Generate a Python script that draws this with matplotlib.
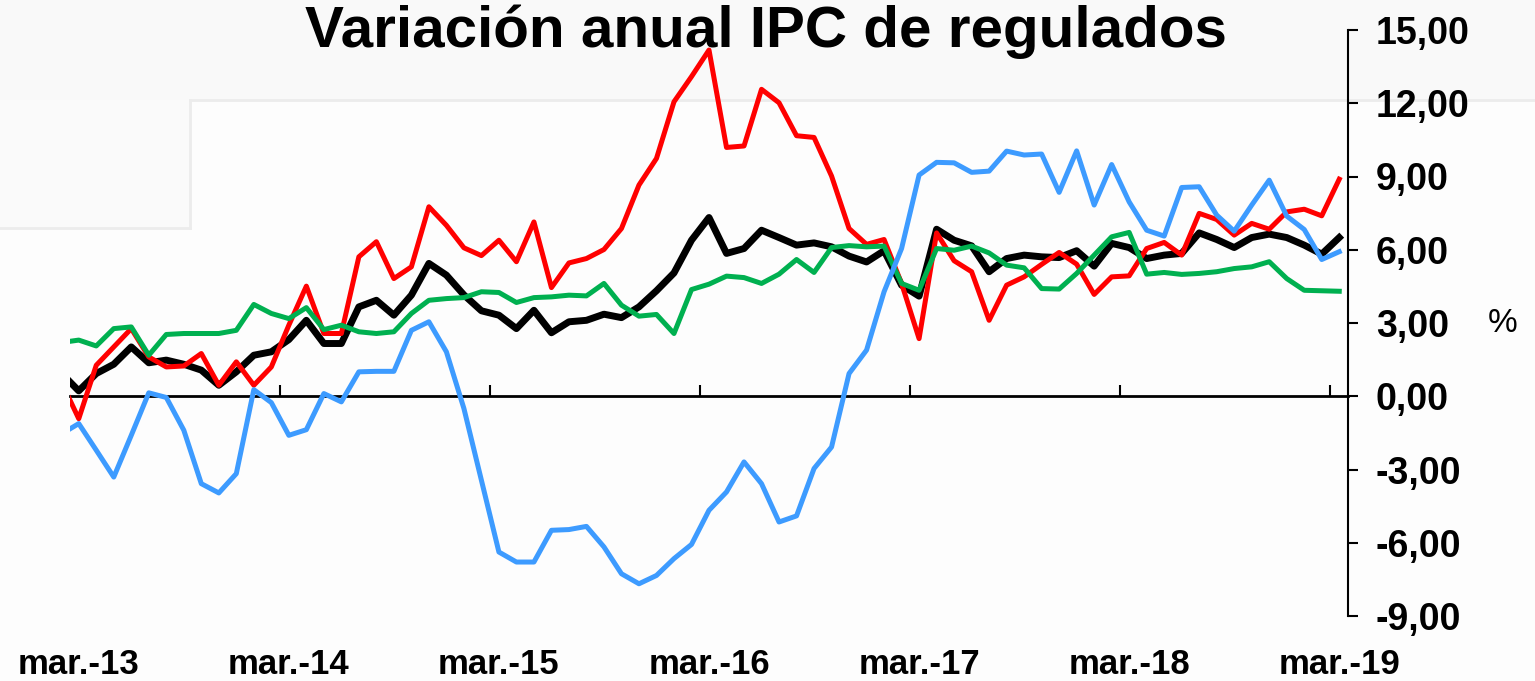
import numpy as np
import matplotlib.pyplot as plt
from matplotlib.patches import Rectangle
from matplotlib.lines import Line2D

plt.rcParams['font.family'] = ['Liberation Sans', 'DejaVu Sans']

# monthly index, 0 = mar-13 (feb-13 is only partly visible at the left edge)
meses = np.arange(-1, 73)
etiquetas = ['mar.-13', 'mar.-14', 'mar.-15', 'mar.-16', 'mar.-17', 'mar.-18', 'mar.-19']
pos_etiquetas = [0, 12, 24, 36, 48, 60, 72]
yticks = [-9, -6, -3, 0, 3, 6, 9, 12, 15]

negro = [0.95, 0.22, 0.93, 1.31, 2.02, 1.37, 1.48, 1.31, 1.07, 0.45, 1.0, 1.68, 1.82,
         2.32, 3.11, 2.16, 2.16, 3.66, 3.93, 3.32, 4.14, 5.44, 4.96, 4.15, 3.5,
         3.32, 2.77, 3.52, 2.6, 3.05, 3.11, 3.36, 3.22, 3.66, 4.32, 5.05, 6.39,
         7.32, 5.85, 6.05, 6.8, 6.5, 6.19, 6.28, 6.12, 5.74, 5.5, 5.96, 4.55,
         4.1, 6.84, 6.39, 6.16, 5.1, 5.64, 5.78, 5.71, 5.68, 5.96, 5.33, 6.26,
         6.09, 5.64, 5.78, 5.85, 6.69, 6.42, 6.09, 6.5, 6.64, 6.5, 6.19, 5.82, 6.5]

rojo = [0.6, -0.92, 1.27, 2.02, 2.77, 1.61, 1.2, 1.24, 1.75, 0.45, 1.41, 0.45, 1.2,
        2.91, 4.51, 2.57, 2.57, 5.71, 6.33, 4.82, 5.3, 7.76, 7.0, 6.08, 5.76,
        6.39, 5.51, 7.14, 4.45, 5.46, 5.64, 6.01, 6.87, 8.65, 9.74, 12.06, 13.09,
        14.18, 10.19, 10.25, 12.57, 12.02, 10.67, 10.6, 9.02, 6.87, 6.22, 6.42, 4.62,
        2.36, 6.69, 5.55, 5.1, 3.11, 4.55, 4.89, 5.4, 5.89, 5.41, 4.17, 4.89,
        4.93, 6.05, 6.3, 5.78, 7.49, 7.24, 6.6, 7.08, 6.84, 7.55, 7.66, 7.39, 8.89]

verde = [2.2, 2.3, 2.06, 2.77, 2.84, 1.68, 2.53, 2.57, 2.57, 2.57, 2.7, 3.76, 3.39,
         3.18, 3.63, 2.73, 2.91, 2.64, 2.57, 2.64, 3.39, 3.93, 4.0, 4.04, 4.28,
         4.25, 3.84, 4.04, 4.07, 4.14, 4.11, 4.62, 3.73, 3.28, 3.35, 2.57, 4.37,
         4.59, 4.92, 4.86, 4.62, 5.0, 5.6, 5.07, 6.09, 6.17, 6.12, 6.15, 4.62,
         4.34, 6.05, 5.98, 6.15, 5.87, 5.37, 5.26, 4.41, 4.39, 5.03, 5.78, 6.53,
         6.71, 5.0, 5.07, 4.99, 5.03, 5.1, 5.23, 5.3, 5.51, 4.82, 4.34, 4.32, 4.3]

azul = [-1.55, -1.12, -2.21, -3.31, -1.6, 0.14, -0.05, -1.39, -3.58, -3.96, -3.17, 0.27, -0.26,
        -1.6, -1.37, 0.11, -0.23, 1.0, 1.02, 1.02, 2.7, 3.05, 1.82, -0.5, -3.44,
        -6.38, -6.79, -6.79, -5.49, -5.46, -5.33, -6.17, -7.27, -7.68, -7.34, -6.65, -6.07,
        -4.67, -3.92, -2.69, -3.58, -5.15, -4.9, -2.96, -2.08, 0.93, 1.89, 4.28, 6.05,
        9.06, 9.58, 9.56, 9.17, 9.22, 10.04, 9.88, 9.92, 8.35, 10.05, 7.83, 9.49,
        7.96, 6.8, 6.56, 8.55, 8.58, 7.42, 6.76, 7.83, 8.85, 7.38, 6.83, 5.6, 5.92]

W, H = 1535, 681
fig = plt.figure(figsize=(W / 100, H / 100), dpi=100, facecolor='#fdfdfd')

def fx(px):
    return px / W

def fy(py):
    return 1 - py / H

# faint slide background behind the chart
fig.patches.append(Rectangle((0, fy(100)), 1, fy(0) - fy(100), transform=fig.transFigure,
                             facecolor='#f9f9f9', edgecolor='none', zorder=-10))
fig.patches.append(Rectangle((0, fy(228)), fx(190), fy(100) - fy(228), transform=fig.transFigure,
                             facecolor='#fafafa', edgecolor='none', zorder=-10))
for xs, ys in [((190, 1535), (100, 100)), ((190, 190), (100, 228)), ((0, 190), (228, 228))]:
    fig.lines.append(Line2D([fx(x) for x in xs], [fy(y) for y in ys], transform=fig.transFigure,
                            color='#ececec', lw=2, zorder=-9))

ax = fig.add_axes([fx(70), fy(616), fx(1348) - fx(70), fy(30) - fy(616)])
ax.patch.set_alpha(0)

ax.plot(meses, negro, color='black', lw=5, zorder=3)
ax.plot(meses, rojo, color='#ff0000', lw=3.6, zorder=4)
ax.plot(meses, verde, color='#00b050', lw=3.6, zorder=5)
ax.plot(meses, azul, color='#3d9bff', lw=3.6, zorder=6)

ax.set_xlim(-0.5, 72.5)
ax.set_ylim(-9, 15)

ax.spines['left'].set_visible(False)
ax.spines['top'].set_visible(False)
ax.spines['right'].set_linewidth(1.5)
ax.spines['bottom'].set_position(('data', 0))
ax.spines['bottom'].set_linewidth(2)

ax.yaxis.tick_right()
ax.set_yticks(yticks)
ax.set_yticklabels([f'{v:.2f}'.replace('.', ',') for v in yticks], fontweight='bold')
ax.tick_params(axis='y', direction='out', length=7, width=1.5, pad=13, labelsize=27)

ax.set_xticks(np.arange(11.5, 72, 12))
ax.tick_params(axis='x', direction='in', length=8, width=1.5, labelbottom=False)

for p, lab in zip(pos_etiquetas, etiquetas):
    ax.text(p, -0.0836, lab, transform=ax.get_xaxis_transform(), ha='center', va='center',
            fontsize=25, fontweight='bold', clip_on=False)

fig.text(fx(766), fy(47), 'Variación anual IPC de regulados', ha='center', va='baseline',
         fontsize=42, fontweight='bold')
fig.text(fx(1503), fy(323), '%', ha='center', va='center', fontsize=24)

fig.savefig('out.png', dpi=100, facecolor=fig.get_facecolor())
